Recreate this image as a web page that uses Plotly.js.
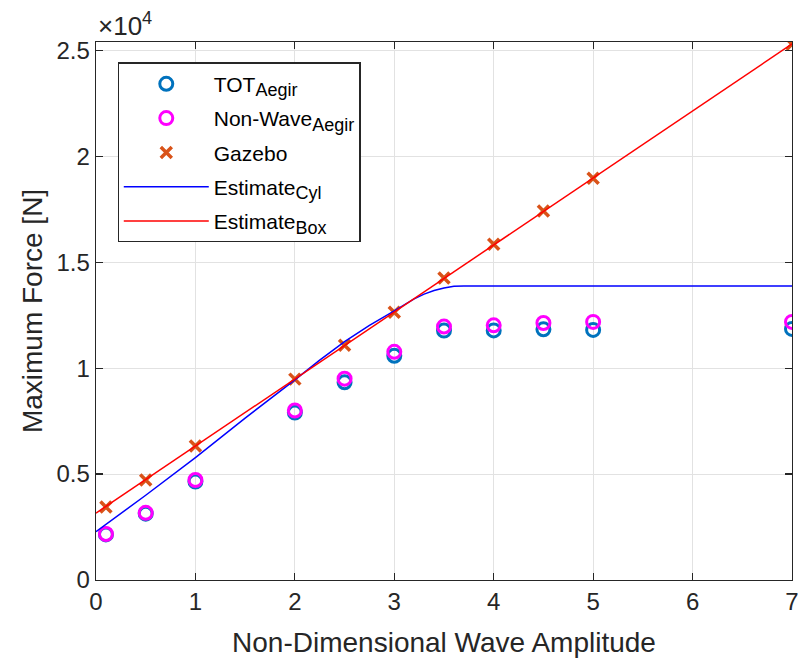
<!DOCTYPE html>
<html>
<head>
<meta charset="utf-8">
<script src="https://cdn.plot.ly/plotly-3.0.1.min.js"></script>
<style>html,body{margin:0;padding:0;background:#fff;}#chart{width:798px;height:663px;}</style>
</head>
<body>
<div id="chart"></div>
<script>
// Measured data
const amp = [0.1, 0.5, 1, 2, 2.5, 3, 3.5, 4, 4.5, 5, 7];
const totAegir = [2150, 3130, 4650, 7900, 9330, 10580, 11770, 11780, 11830, 11800, 11850];
const nonWaveAegir = [2170, 3170, 4720, 8000, 9500, 10770, 11960, 12020, 12130, 12180, 12180];
const gazebo = [3440, 4720, 6320, 9480, 11080, 12640, 14250, 15850, 17410, 18960, 25280];

const cylX = [0, 0.5, 1, 1.5, 2, 2.25, 2.5, 2.75, 3, 3.1, 3.2, 3.3, 3.4, 3.5, 3.6, 3.7, 7];
const cylY = [2280, 4000, 5780, 7640, 9440, 10380, 11250, 12020, 12700, 13000, 13270, 13490, 13660, 13780, 13860, 13880, 13880];

const boxX = [0, 7];
const boxY = [3160, 25300];

const xTicks = [0, 1, 2, 3, 4, 5, 6, 7];
const yTickVals = [0, 5000, 10000, 15000, 20000, 25000];
const yTickText = ['0', '0.5', '1', '1.5', '2', '2.5'];

const legendNames = [
  'TOT<sub><span style="font-size:18px">Aegir</span></sub>',
  'Non-Wave<sub><span style="font-size:18px">Aegir</span></sub>',
  'Gazebo',
  'Estimate<sub><span style="font-size:18px">Cyl</span></sub>',
  'Estimate<sub><span style="font-size:18px">Box</span></sub>'
];

const txt = '#262626';
const font = 'Liberation Sans, Arial, Helvetica, sans-serif';

const traces = [
  {x: amp, y: totAegir, mode: 'markers', name: legendNames[0], legendgroup: 'g1',
   marker: {symbol: 'circle-open', size: 13, color: '#0072BD', line: {width: 3, color: '#0072BD'}}},
  {x: amp, y: nonWaveAegir, mode: 'markers', name: legendNames[1], legendgroup: 'g2',
   marker: {symbol: 'circle-open', size: 13, color: '#FF00FF', line: {width: 3, color: '#FF00FF'}}},
  {x: amp, y: gazebo, mode: 'markers', name: legendNames[2], legendgroup: 'g3',
   marker: {symbol: 'x-thin-open', size: 11, color: '#D95319', line: {width: 3.5, color: '#D95319'}}},
  {x: cylX, y: cylY, mode: 'lines', name: legendNames[3], legendgroup: 'g4',
   line: {color: '#0000FF', width: 1.5}},
  {x: boxX, y: boxY, mode: 'lines', name: legendNames[4], legendgroup: 'g5',
   line: {color: '#FF0000', width: 1.5}}
];

const axisCommon = {
  showline: true, linecolor: txt, linewidth: 1.3, mirror: 'ticks',
  ticks: 'inside', ticklen: 7, tickwidth: 1.2, tickcolor: txt,
  showgrid: true, gridcolor: '#e2e2e2', gridwidth: 1, zeroline: false,
  ticklabeloverflow: 'allow',
  tickfont: {family: font, size: 24, color: txt}
};

const layout = {
  width: 798, height: 663,
  margin: {l: 96, r: 6, t: 42, b: 83},
  paper_bgcolor: '#fff', plot_bgcolor: '#fff',
  showlegend: true,
  xaxis: Object.assign({}, axisCommon, {
    range: [0, 7], tickvals: xTicks,
    title: {text: 'Non-Dimensional Wave Amplitude', font: {family: font, size: 28, color: txt}, standoff: 18}
  }),
  yaxis: Object.assign({}, axisCommon, {
    range: [0, 25390], tickvals: yTickVals, ticktext: yTickText,
    title: {text: 'Maximum Force [N]', font: {family: font, size: 28, color: txt}, standoff: 5}
  }),
  legend: {
    x: 0.031, y: 0.962, xanchor: 'left', yanchor: 'top',
    bgcolor: '#fff', bordercolor: txt, borderwidth: 1.2,
    font: {family: font, size: 21, color: '#000'},
    itemwidth: 85, tracegroupgap: 4
  },
  annotations: [{
    xref: 'paper', yref: 'paper', x: 0, y: 1, xanchor: 'left', yanchor: 'bottom',
    text: '×10<sup>4</sup>', showarrow: false, yshift: -1,
    font: {family: font, size: 26, color: txt}
  }]
};

Plotly.newPlot('chart', traces, layout, {displayModeBar: false, staticPlot: true});
</script>
</body>
</html>
